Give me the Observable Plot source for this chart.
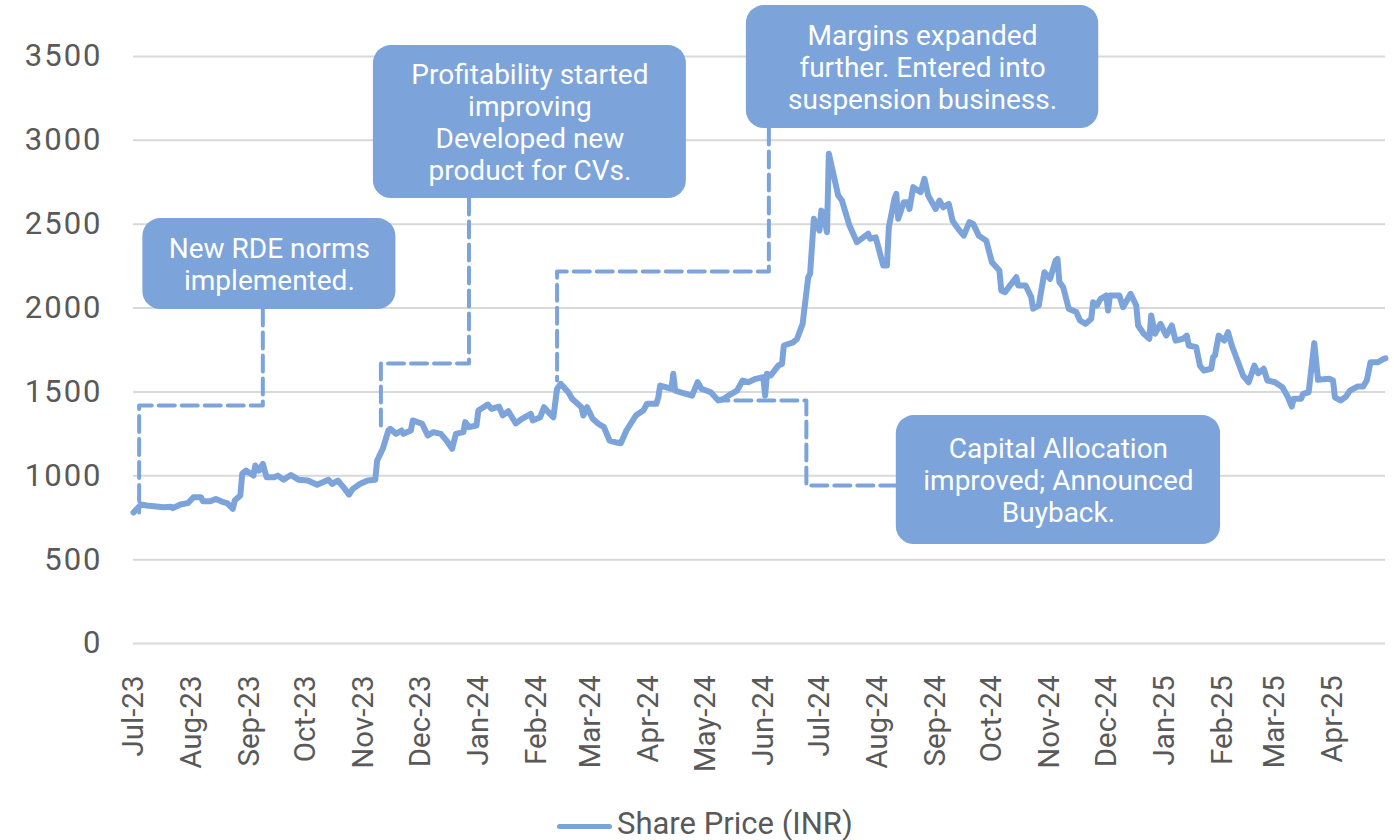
<!DOCTYPE html>
<html>
<head>
<meta charset="utf-8">
<script src="https://cdn.jsdelivr.net/npm/d3@7"></script>
<script src="https://cdn.jsdelivr.net/npm/@observablehq/plot@0.6"></script>
<style>
  body { margin: 0; background: #ffffff; }
  #wrap { width: 1394px; position: relative; }
  .legend { position: relative; height: 40px; width: 1394px; font-family: Roboto, sans-serif; color: #595959; }
  .legend .swatch { position: absolute; left: 557px; top: 24px; width: 55px; height: 5px; border-radius: 3px; background: #7ca4db; }
  .legend .label { position: absolute; left: 617px; top: 8px; font-size: 31px; line-height: 31px; white-space: nowrap; }
</style>
</head>
<body>
<div id="wrap"></div>
<script>
// ---------------- DATA ----------------
const startDate = "2023-07-01";
const endDay = 668; // last trading day shown (29 Apr 2025)

// days since 1 Jul 2023
const dayOffsets = [
  0,4,7,11,16,20,21,25,29,32,36,37,41,44,48,50,53,54,57,58,60,64,65,67,69,71,75,77,80,84,88,93,98,104,106,109,112,115,117,121,125,129,
  130,133,136,137,140,143,144,148,149,154,157,160,164,167,170,172,176,177,179,183,184,189,191,195,197,200,204,207,212,213,217,219,223,224,
  226,228,232,234,239,240,242,245,248,251,254,257,260,263,268,272,274,279,280,281,287,288,289,292,298,301,303,308,312,315,319,322,325,328,
  332,336,337,338,340,344,346,347,352,354,357,360,361,363,366,367,368,370,371,376,378,382,386,392,393,396,400,402,403,406,407,408,411,413,
  414,416,420,422,424,428,430,432,435,437,440,443,446,448,451,455,458,462,463,465,467,471,472,476,479,480,483,486,489,492,493,494,496,499,
  503,505,508,511,512,514,516,519,520,521,526,528,532,535,536,539,542,543,545,548,551,554,556,560,562,563,567,569,571,575,576,577,579,582,
  584,586,589,592,595,598,600,603,605,609,613,616,618,619,623,624,627,630,632,638,640,641,644,647,649,653,656,658,660,664,667,668
];
// share price, INR
const prices = [
  781,829,823,819,813,816,807,829,837,872,872,848,848,862,842,837,803,852,882,1012,1031,1001,1061,1031,1071,991,991,1001,977,1005,977,972,946,976,952,972,932,888,922,952,972,976,
  1091,1161,1270,1280,1250,1270,1250,1270,1330,1310,1240,1260,1250,1210,1161,1250,1260,1320,1290,1300,1389,1425,1399,1413,1360,1385,1312,1338,1369,1330,1349,1409,1359,1349,
  1519,1548,1498,1459,1409,1359,1409,1340,1310,1290,1210,1200,1194,1270,1359,1389,1429,1429,1468,1538,1519,1608,1508,1498,1478,1558,1519,1498,1449,1459,1489,1508,1568,1558,
  1578,1588,1478,1608,1598,1657,1667,1777,1796,1816,1906,2184,2204,2532,2462,2581,2571,2452,2920,2671,2641,2492,2393,2443,2413,2422,2254,2254,2482,2651,2681,2532,2631,2631,
  2591,2721,2691,2770,2671,2591,2641,2601,2621,2521,2472,2432,2512,2502,2432,2402,2273,2224,2105,2095,2125,2184,2135,2135,2065,1996,2015,2214,2174,2283,2293,2155,2125,1996,
  1976,1926,1906,1936,2035,2015,2055,2075,1985,2075,2075,2005,2085,2015,1896,1847,1817,1956,1847,1906,1836,1896,1806,1817,1836,1777,1767,1657,1628,1638,1707,1717,1836,1806,
  1856,1777,1687,1598,1558,1657,1611,1638,1568,1558,1528,1468,1413,1459,1459,1489,1498,1791,1572,1578,1568,1468,1449,1473,1508,1532,1532,1568,1677,1677,1697,1700
];

const yTicks = [0, 500, 1000, 1500, 2000, 2500, 3000, 3500];
const yTickLabels = ["0", "500", "1000", "1500", "2000", "2500", "3000", "3500"];

const monthStarts = [
  "2023-07-01","2023-08-01","2023-09-01","2023-10-01","2023-11-01","2023-12-01",
  "2024-01-01","2024-02-01","2024-03-01","2024-04-01","2024-05-01","2024-06-01",
  "2024-07-01","2024-08-01","2024-09-01","2024-10-01","2024-11-01","2024-12-01",
  "2025-01-01","2025-02-01","2025-03-01","2025-04-01"
];
const monthLabels = [
  "Jul-23","Aug-23","Sep-23","Oct-23","Nov-23","Dec-23",
  "Jan-24","Feb-24","Mar-24","Apr-24","May-24","Jun-24",
  "Jul-24","Aug-24","Sep-24","Oct-24","Nov-24","Dec-24",
  "Jan-25","Feb-25","Mar-25","Apr-25"
];

const seriesName = "Share Price (INR)";

const noteTexts = [
  "New RDE norms\nimplemented.",
  "Profitability started\nimproving\nDeveloped new\nproduct for CVs.",
  "Margins expanded\nfurther. Entered into\nsuspension business.",
  "Capital Allocation\nimproved; Announced\nBuyback."
];

// ---------------- ANNOTATION LAYOUT (in data units) ----------------
const noteBoxDays   = [[5, 140], [128, 295], [327, 515], [407, 580]];
const noteBoxValues = [[1991, 2534], [2653, 3565], [3070, 3804], [590, 1359]];
const connectorDays   = [[69, 69, 3, 3], [179, 179, 132, 132], [339, 339, 226, 226], [407, 359, 359, 313]];
const connectorValues = [[1991, 1419, 1419, 781], [2653, 1669, 1669, 1270], [3070, 2218, 2218, 1568], [942, 942, 1449, 1449]];

// ---------------- BUILD ----------------
const color = "#7ca4db";
const boxColor = "#7ca3da";
const t0 = new Date(startDate);
const dayToDate = d => new Date(t0.getTime() + d * 86400000);

const series = dayOffsets.map((d, i) => ({date: dayToDate(d), price: prices[i]}));
const monthDates = monthStarts.map(s => new Date(s));
const labelByTime = new Map(monthDates.map((d, i) => [+d, monthLabels[i]]));
const yLabelByValue = new Map(yTicks.map((v, i) => [v, yTickLabels[i]]));

const notes = noteTexts.map((text, i) => ({
  text,
  x1: dayToDate(noteBoxDays[i][0]), x2: dayToDate(noteBoxDays[i][1]),
  y1: noteBoxValues[i][0], y2: noteBoxValues[i][1],
  cx: dayToDate((noteBoxDays[i][0] + noteBoxDays[i][1]) / 2),
  cy: (noteBoxValues[i][0] + noteBoxValues[i][1]) / 2
}));
const connectors = connectorDays.flatMap((days, i) =>
  days.map((d, j) => ({id: i, date: dayToDate(d), value: connectorValues[i][j]})));

const chart = Plot.plot({
  width: 1394,
  height: 800,
  marginLeft: 133,
  marginRight: 9,
  marginTop: 56,
  marginBottom: 157,
  style: {fontFamily: "Roboto, sans-serif", fontSize: "30px", background: "#ffffff", color: "#595959"},
  x: {type: "utc", domain: [dayToDate(0), dayToDate(endDay)], label: null},
  y: {domain: [0, 3500], label: null},
  marks: [
    Plot.gridY(yTicks, {stroke: "#d9d9d9", strokeOpacity: 1, strokeWidth: 2}),
    Plot.axisY(yTicks, {tickSize: 0, tickPadding: 31, tickFormat: v => yLabelByValue.get(v), fill: "#595959", fontSize: 31}),
    Plot.axisX(monthDates, {tickSize: 0, tickPadding: 32, tickRotate: -90, tickFormat: d => labelByTime.get(+d), fill: "#595959", fontSize: 29.5}),
    Plot.line(connectors, {x: "date", y: "value", z: "id", stroke: color, strokeWidth: 4, strokeDasharray: "16,7", curve: "linear"}),
    Plot.line(series, {x: "date", y: "price", stroke: color, strokeWidth: 6, strokeLinejoin: "round", strokeLinecap: "round"}),
    Plot.rect(notes, {x1: "x1", x2: "x2", y1: "y1", y2: "y2", fill: boxColor, rx: 18, ry: 18}),
    Plot.text(notes, {x: "cx", y: "cy", text: "text", fill: "#ffffff", fontSize: 28, lineHeight: 1.14, fontFamily: "Roboto, sans-serif"})
  ]
});

// slightly wider digit spacing on the value axis labels, as in the original
chart.querySelectorAll('g[aria-label="y-axis tick label"] text').forEach(t => t.style.letterSpacing = "2px");

const wrap = document.getElementById("wrap");
wrap.appendChild(chart);
const legend = document.createElement("div");
legend.className = "legend";
legend.innerHTML = '<div class="swatch"></div><div class="label"></div>';
legend.querySelector(".label").textContent = seriesName;
wrap.appendChild(legend);
</script>
</body>
</html>
